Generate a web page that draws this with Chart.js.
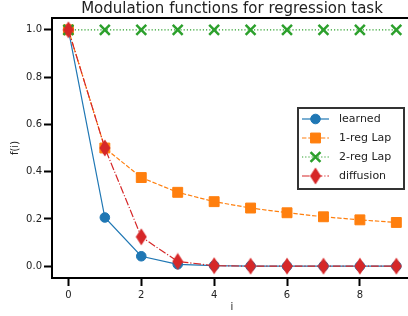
<!DOCTYPE html>
<html>
<head>
<meta charset="utf-8">
<script src="https://cdn.jsdelivr.net/npm/chart.js@4/dist/chart.umd.min.js"></script>
<style>
  html, body { margin: 0; padding: 0; background: #fff; overflow: hidden; }
  #wrap { width: 408px; height: 316px; overflow: hidden; }
</style>
</head>
<body>
<div id="wrap"><canvas id="myChart" width="412" height="316"></canvas></div>
<script>
// values
var steps = [0, 1, 2, 3, 4, 5, 6, 7, 8, 9];
var learned = [1.0, 0.206, 0.042, 0.008, 0.002, 0.0005, 0, 0, 0, 0];
var reg1Lap = [1.0, 0.5, 0.375, 0.3125, 0.273, 0.246, 0.226, 0.209, 0.196, 0.185];
var reg2Lap = [1, 1, 1, 1, 1, 1, 1, 1, 1, 1];
var diffusion = [1.0, 0.5, 0.124, 0.02, 0.002, 0.0001, 0, 0, 0, 0];
var xTicks = [0, 2, 4, 6, 8];
var yTicks = [0.0, 0.2, 0.4, 0.6, 0.8, 1.0];

var FONT = 'DejaVu Sans';
var TXT = '#222';

// thin diamond marker (matplotlib 'd')
function makeDiamond(color) {
  var c = document.createElement('canvas');
  c.width = 12; c.height = 18;
  var g = c.getContext('2d');
  g.fillStyle = color;
  g.beginPath();
  g.moveTo(6, 0.5);
  g.lineTo(11.5, 9);
  g.lineTo(6, 17.5);
  g.lineTo(0.5, 9);
  g.closePath();
  g.fill();
  return c;
}

function pts(arr) {
  var out = [];
  for (var i = 0; i < arr.length; i++) {
    out.push({x: steps[i], y: arr[i]});
  }
  return out;
}

var lw = 1.2;
var datasets = [
  {
    label: 'learned', data: pts(learned), order: 3,
    borderColor: '#1f77b4', backgroundColor: '#1f77b4', borderWidth: lw,
    pointStyle: 'circle', pointRadius: 4.8, pointBorderWidth: 1,
    pointBackgroundColor: '#1f77b4', pointBorderColor: '#1f77b4'
  },
  {
    label: '1-reg Lap', data: pts(reg1Lap), order: 2,
    borderColor: '#ff7f0e', backgroundColor: '#ff7f0e', borderWidth: lw,
    borderDash: [4.4, 1.9],
    pointStyle: 'rect', pointRadius: 7, pointBorderWidth: 1,
    pointBackgroundColor: '#ff7f0e', pointBorderColor: '#ff7f0e'
  },
  {
    label: '2-reg Lap', data: pts(reg2Lap), order: 1,
    borderColor: '#2ca02c', backgroundColor: '#2ca02c', borderWidth: lw,
    borderDash: [1.2, 2.0],
    pointStyle: 'crossRot', pointRadius: 7, pointBorderWidth: 2.5,
    pointBackgroundColor: '#2ca02c', pointBorderColor: '#2ca02c'
  },
  {
    label: 'diffusion', data: pts(diffusion), order: 0,
    borderColor: '#d62728', backgroundColor: '#d62728', borderWidth: lw,
    borderDash: [7.7, 1.9, 1.2, 1.9],
    pointStyle: makeDiamond('#d62728'), pointRadius: 6,
    pointBackgroundColor: '#d62728', pointBorderColor: '#d62728'
  }
];

// top spine (right spine falls outside the picture) + matplotlib style legend
var framePlugin = {
  id: 'frame',
  afterDraw: function(chart) {
    var ctx = chart.ctx, a = chart.chartArea;
    ctx.save();
    // keep the strip near the cut right edge empty
    ctx.fillStyle = '#fff';
    ctx.fillRect(405.5, a.top + 1, a.right - 405.5, a.bottom - a.top - 2);

    ctx.strokeStyle = '#000';
    ctx.lineWidth = 2;
    ctx.beginPath();
    ctx.moveTo(a.left - 1, a.top);
    ctx.lineTo(a.right, a.top);
    ctx.stroke();

    // legend box
    var bx = 298, by = 108, bw = 106, bh = 81;
    ctx.fillStyle = 'rgba(255,255,255,0.8)';
    ctx.fillRect(bx, by, bw, bh);
    ctx.strokeStyle = '#333';
    ctx.lineWidth = 2;
    ctx.strokeRect(bx, by, bw, bh);

    ctx.font = '11px "' + FONT + '"';
    ctx.textBaseline = 'middle';
    ctx.textAlign = 'left';
    for (var i = 0; i < chart.data.datasets.length; i++) {
      var ds = chart.data.datasets[i];
      var y = 119 + i * 19;
      ctx.strokeStyle = ds.borderColor;
      ctx.lineWidth = ds.borderWidth;
      ctx.setLineDash(ds.borderDash || []);
      ctx.beginPath();
      ctx.moveTo(302, y);
      ctx.lineTo(329, y);
      ctx.stroke();
      ctx.setLineDash([]);
      ctx.fillStyle = ds.pointBackgroundColor;
      ctx.strokeStyle = ds.pointBorderColor;
      ctx.lineWidth = ds.pointBorderWidth || 0;
      Chart.helpers.drawPoint(ctx, {
        pointStyle: ds.pointStyle, radius: ds.pointRadius,
        rotation: 0, borderWidth: ds.pointBorderWidth || 0
      }, 315.5, y);
      ctx.fillStyle = TXT;
      ctx.fillText(ds.label, 339, y + 0.5);
    }
    ctx.restore();
  }
};

var ctx = document.getElementById('myChart').getContext('2d');
var myChart = new Chart(ctx, {
  type: 'line',
  data: { datasets: datasets },
  plugins: [framePlugin],
  options: {
    responsive: false,
    animation: false,
    devicePixelRatio: 1,
    layout: { autoPadding: false, padding: 0 },
    plugins: {
      legend: { display: false },
      tooltip: { enabled: false },
      title: {
        display: true,
        text: 'Modulation functions for regression task',
        fullSize: false,
        color: TXT,
        font: { family: FONT, size: 15, weight: 'normal', lineHeight: 1.2 },
        padding: { top: 0, bottom: 0 }
      }
    },
    scales: {
      x: {
        type: 'linear',
        min: -0.45, max: 9.43,
        afterBuildTicks: function(scale) {
          scale.ticks = xTicks.map(function(v) { return {value: v}; });
        },
        afterFit: function(scale) {
          scale.height = 38;
          scale.paddingLeft = 0;
          scale.paddingRight = 0;
        },
        ticks: {
          color: TXT, padding: 3,
          font: { family: FONT, size: 10 },
          callback: function(v) { return String(v); }
        },
        grid: { drawOnChartArea: false, tickLength: 8, tickWidth: 2, tickColor: '#000' },
        border: { color: '#000', width: 2 },
        title: {
          display: true, text: 'i', color: TXT,
          font: { family: FONT, size: 10 },
          padding: { top: 0, bottom: 3 }
        }
      },
      y: {
        type: 'linear',
        min: -0.05, max: 1.05,
        afterBuildTicks: function(scale) {
          scale.ticks = yTicks.map(function(v) { return {value: v}; });
        },
        afterFit: function(scale) {
          scale.width = 52;
          scale.paddingTop = 0;
          scale.paddingBottom = 0;
        },
        ticks: {
          color: TXT, padding: 2,
          font: { family: FONT, size: 10 },
          callback: function(v) { return Number(v).toFixed(1); }
        },
        grid: { drawOnChartArea: false, tickLength: 8, tickWidth: 2, tickColor: '#000' },
        border: { color: '#000', width: 2 },
        title: {
          display: true, text: 'f(i)', color: TXT,
          font: { family: FONT, size: 10 },
          padding: { top: 9, bottom: 0 }
        }
      }
    }
  }
});
</script>
</body>
</html>
